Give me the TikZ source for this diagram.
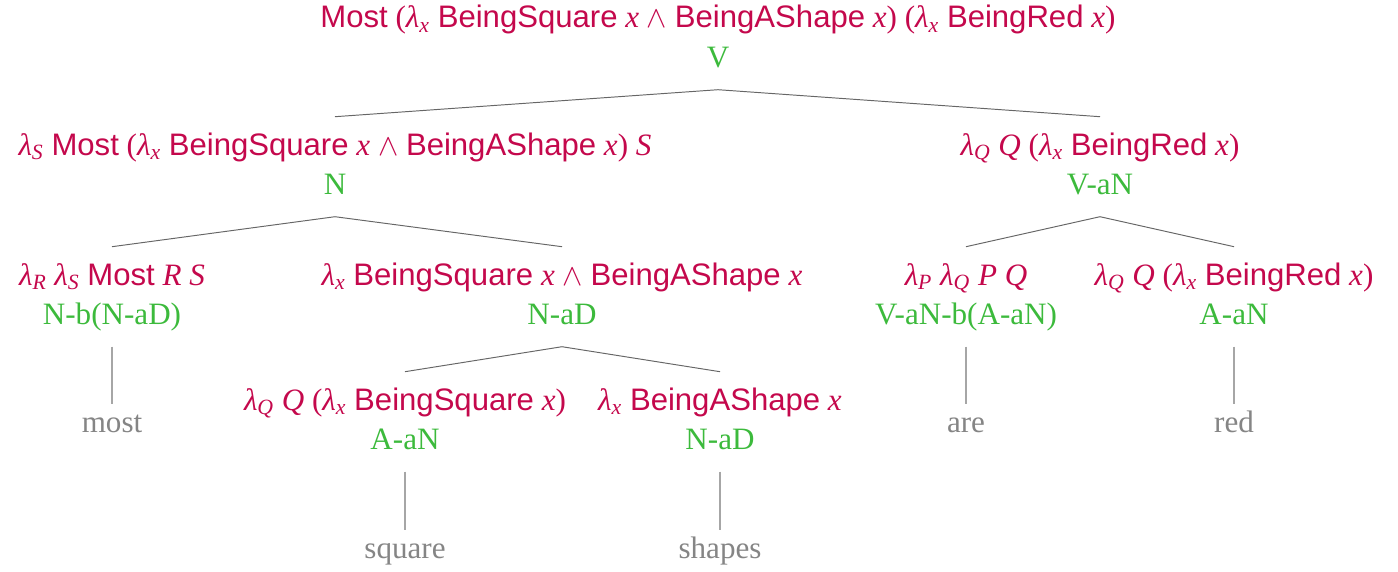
\documentclass[tikz,border=0pt]{standalone}
\usepackage{fontspec}
\setmainfont{Liberation Serif}
\setsansfont{Liberation Sans}
\usetikzlibrary{positioning}
\definecolor{semred}{HTML}{C4084C}
\definecolor{catgreen}{HTML}{3CBA3C}
\definecolor{wordgray}{HTML}{858585}
\newcommand{\lam}[1]{\textit{λ}\textsubscript{\textit{#1}}}
\newcommand{\cst}[1]{\textsf{#1}}
\newcommand{\ivar}[1]{\textit{#1}}
\newcommand{\tlabel}[2]{\textcolor{semred}{\strut #1}\\\textcolor{catgreen}{\strut #2}}

\begin{document}
\begin{tikzpicture}[x=0.02cm, y=-0.02cm,
    every node/.style={font=\fontsize{17.7}{22.2}\selectfont, inner sep=0pt, anchor=north},
    tnode/.style={align=center, outer ysep=0.22cm},
    leaf/.style={text=wordgray, outer ysep=0.02cm},
    branch/.style={draw=black!60, line width=0.55pt},
    stem/.style={draw=black!35, line width=0.7pt}]
  \useasboundingbox (0,0) rectangle (1398,571);

  % Root
  \node[tnode] (root) at (718,-10.3) {\tlabel{\cst{Most} (\lam{x} \cst{BeingSquare} \ivar{x} $\wedge$ \cst{BeingAShape} \ivar{x}) (\lam{x} \cst{BeingRed} \ivar{x})}{V}};

  % Level 1
  \node[tnode] (nl) at (335,116.7) {\tlabel{\lam{S} \cst{Most} (\lam{x} \cst{BeingSquare} \ivar{x} $\wedge$ \cst{BeingAShape} \ivar{x}) \ivar{S}}{N}};
  \node[tnode] (nr) at (1100,116.7) {\tlabel{\lam{Q} \ivar{Q} (\lam{x} \cst{BeingRed} \ivar{x})}{V-aN}};

  % Level 2
  \node[tnode] (det) at (112,246.7) {\tlabel{\lam{R} \lam{S} \cst{Most} \ivar{R} \ivar{S}}{N-b(N-aD)}};
  \node[tnode] (conj) at (562,246.7) {\tlabel{\lam{x} \cst{BeingSquare} \ivar{x} $\wedge$ \cst{BeingAShape} \ivar{x}}{N-aD}};
  \node[tnode] (cop) at (966,246.7) {\tlabel{\lam{P} \lam{Q} \ivar{P} \ivar{Q}}{V-aN-b(A-aN)}};
  \node[tnode] (adjred) at (1234,246.7) {\tlabel{\lam{Q} \ivar{Q} (\lam{x} \cst{BeingRed} \ivar{x})}{A-aN}};

  % Level 3
  \node[tnode] (adjsq) at (405,371.7) {\tlabel{\lam{Q} \ivar{Q} (\lam{x} \cst{BeingSquare} \ivar{x})}{A-aN}};
  \node[tnode] (noun) at (720,371.7) {\tlabel{\lam{x} \cst{BeingAShape} \ivar{x}}{N-aD}};

  % Words
  \node[leaf] (wmost) at (112,403.7) {\strut most};
  \node[leaf] (ware) at (966,403.7) {\strut are};
  \node[leaf] (wred) at (1234,403.7) {\strut red};
  \node[leaf] (wsquare) at (405,529.7) {\strut square};
  \node[leaf] (wshapes) at (720,529.7) {\strut shapes};

  % Branches
  \draw[branch] (root.south) -- (nl.north);
  \draw[branch] (root.south) -- (nr.north);
  \draw[branch] (nl.south) -- (det.north);
  \draw[branch] (nl.south) -- (conj.north);
  \draw[branch] (nr.south) -- (cop.north);
  \draw[branch] (nr.south) -- (adjred.north);
  \draw[branch] (conj.south) -- (adjsq.north);
  \draw[branch] (conj.south) -- (noun.north);

  % Stems to words
  \draw[stem] (det.south) -- (wmost.north);
  \draw[stem] (cop.south) -- (ware.north);
  \draw[stem] (adjred.south) -- (wred.north);
  \draw[stem] (adjsq.south) -- (wsquare.north);
  \draw[stem] (noun.south) -- (wshapes.north);
\end{tikzpicture}
\end{document}
